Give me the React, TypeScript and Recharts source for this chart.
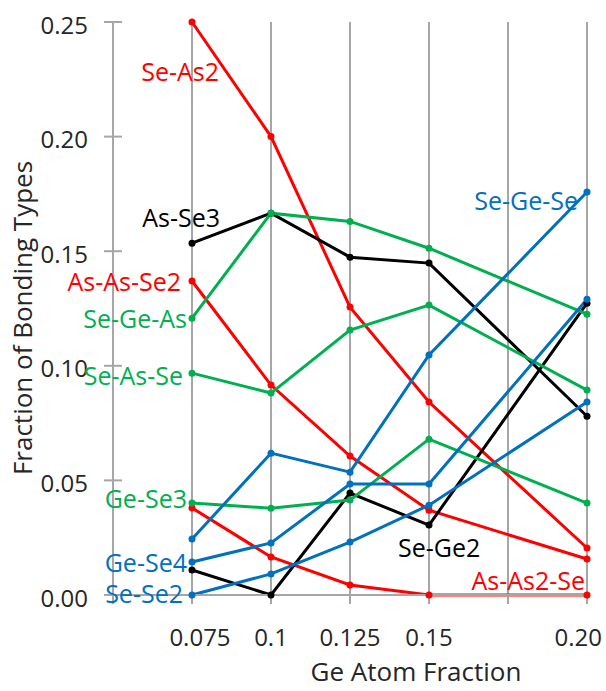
import React from "react"
import { LineChart, Line, XAxis, YAxis, CartesianGrid } from "recharts"

document.body.style.margin = "0"

const geFraction = [0.075, 0.1, 0.125, 0.15, 0.2]
const xTicks = [0.05, 0.075, 0.1, 0.125, 0.15, 0.175, 0.2]
const xTickLabels = ["", "0.075", "0.1", "0.125", "0.15", "", "0.20"]
const yTicks = [0, 0.05, 0.1, 0.15, 0.2, 0.25]
const yTickLabels = ["0.00", "0.05", "0.10", "0.15", "0.20", "0.25"]

// fraction of each bonding type at each Ge fraction
const seAs2 = [0.25, 0.2, 0.1256, 0.0842, 0.0205]
const asAsSe2 = [0.137, 0.0916, 0.0606, 0.037, 0.0157]
const asAs2Se = [0.038, 0.0166, 0.0044, 0.0, 0.0]
const asSe3 = [0.1535, 0.1666, 0.1474, 0.1448, 0.078]
const seGe2 = [0.0109, 0.0, 0.0445, 0.0305, 0.1273]
const seGeAs = [0.1208, 0.1666, 0.163, 0.1513, 0.1225]
const seAsSe = [0.0968, 0.0881, 0.1156, 0.1265, 0.0894]
const geSe3 = [0.0401, 0.0379, 0.0414, 0.068, 0.0401]
const seGeSe = [0.0244, 0.0619, 0.0536, 0.1047, 0.1758]
const geSe4 = [0.0144, 0.0227, 0.0484, 0.0484, 0.129]
const seSe2 = [0.0, 0.0092, 0.0231, 0.0392, 0.0842]

const RED = "#FF0000"
const BLACK = "#000000"
const GREEN = "#00B050"
const BLUE = "#0070C0"
const GRID = "#A6A6A6"
const FONT = "'Open Sans', sans-serif"

const PLOT_LEFT = 113
const PLOT_BOTTOM = 595

const series = [
  { key: "seAs2", name: "Se-As2", values: seAs2, color: RED, at: 0, dx: 27, dy: 49, anchor: "end" },
  { key: "asAsSe2", name: "As-As-Se2", values: asAsSe2, color: RED, at: 0, dx: -11, dy: 0, anchor: "end" },
  { key: "asAs2Se", name: "As-As2-Se", values: asAs2Se, color: RED, at: 4, dx: -2, dy: -15, anchor: "end" },
  { key: "asSe3", name: "As-Se3", values: asSe3, color: BLACK, at: 0, dx: 28, dy: -26, anchor: "end" },
  { key: "seGe2", name: "Se-Ge2", values: seGe2, color: BLACK, at: 3, dx: -31, dy: 22, anchor: "start" },
  { key: "seGeAs", name: "Se-Ge-As", values: seGeAs, color: GREEN, at: 0, dx: -5, dy: 0, anchor: "end" },
  { key: "seAsSe", name: "Se-As-Se", values: seAsSe, color: GREEN, at: 0, dx: -9, dy: 2, anchor: "end" },
  { key: "geSe3", name: "Ge-Se3", values: geSe3, color: GREEN, at: 0, dx: -5, dy: -5, anchor: "end" },
  { key: "seGeSe", name: "Se-Ge-Se", values: seGeSe, color: BLUE, at: 4, dx: -9, dy: 8, anchor: "end" },
  { key: "geSe4", name: "Ge-Se4", values: geSe4, color: BLUE, at: 0, dx: -5, dy: 0, anchor: "end" },
  { key: "seSe2", name: "Se-Se2", values: seSe2, color: BLUE, at: 0, dx: -9, dy: -2, anchor: "end" },
]

const data = geFraction.map((x, i) => {
  const row: any = { x }
  series.forEach((s) => {
    row[s.key] = s.values[i]
  })
  return row
})

const makeLabel = (s: any) => (props: any) => {
  if (props.index !== s.at) return null
  return (
    <text
      x={props.x + s.dx}
      y={props.y + s.dy}
      fill={s.color}
      textAnchor={s.anchor}
      dominantBaseline="central"
      fontSize={25}
      fontFamily={FONT}
    >
      {s.name}
    </text>
  )
}

const XTick = (props: any) => {
  const i = xTicks.indexOf(props.payload.value)
  const label = xTickLabels[i]
  if (!label) return null
  let x = props.x
  let anchor = "middle"
  if (props.payload.value === 0.075) x += 8
  if (props.payload.value === 0.2) {
    x += 15
    anchor = "end"
  }
  return (
    <text x={x} y={PLOT_BOTTOM + 41} textAnchor={anchor} dominantBaseline="central" fontSize={24} fontFamily={FONT} fill="#262626">
      {label}
    </text>
  )
}

const YTick = (props: any) => {
  const i = yTicks.indexOf(props.payload.value)
  return (
    <g>
      <line x1={PLOT_LEFT - 9} x2={PLOT_LEFT + 9} y1={props.y} y2={props.y} stroke={GRID} strokeWidth={2} />
      <text x={PLOT_LEFT - 25} y={props.y + 2} textAnchor="end" dominantBaseline="central" fontSize={24} fontFamily={FONT} fill="#262626">
        {yTickLabels[i]}
      </text>
    </g>
  )
}

export default function App() {
  return (
    <div style={{ width: 606, height: 691, background: "#fff" }}>
      <LineChart width={606} height={691} data={data} margin={{ top: 22, right: 19, left: 0, bottom: 0 }}>
        <CartesianGrid horizontal={false} stroke={GRID} strokeWidth={2} />
        <XAxis
          type="number"
          dataKey="x"
          domain={[0.05, 0.2]}
          ticks={xTicks}
          height={96}
          interval={0}
          tick={<XTick />}
          tickSize={9}
          tickLine={{ stroke: GRID, strokeWidth: 2 }}
          axisLine={{ stroke: GRID, strokeWidth: 2 }}
          label={{
            content: () => (
              <text x={416} y={671} textAnchor="middle" dominantBaseline="central" fontSize={26} fontFamily={FONT} fill="#262626">
                Ge Atom Fraction
              </text>
            ),
          }}
        />
        <YAxis
          type="number"
          domain={[0, 0.25]}
          ticks={yTicks}
          width={113}
          interval={0}
          tick={<YTick />}
          tickLine={false}
          axisLine={{ stroke: GRID, strokeWidth: 2 }}
          label={{
            content: () => (
              <text
                x={22}
                y={318}
                transform="rotate(-90 22 318)"
                textAnchor="middle"
                dominantBaseline="central"
                fontSize={26}
                fontFamily={FONT}
                fill="#262626"
              >
                Fraction of Bonding Types
              </text>
            ),
          }}
        />
        {series.map((s) => (
          <Line
            key={s.key}
            dataKey={s.key}
            stroke={s.color}
            strokeWidth={3}
            dot={{ r: 3.5, fill: s.color, stroke: s.color, strokeWidth: 0 }}
            activeDot={false}
            label={makeLabel(s)}
            isAnimationActive={false}
          />
        ))}
      </LineChart>
    </div>
  )
}
